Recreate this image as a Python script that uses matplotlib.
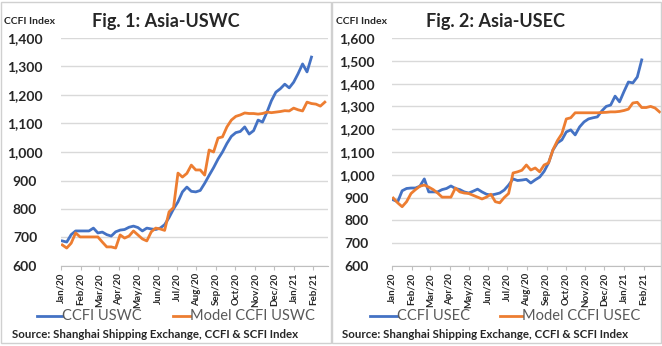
import numpy as np
import pandas as pd
import matplotlib
matplotlib.use("Agg")
import matplotlib.pyplot as plt
from matplotlib.patches import Rectangle
from matplotlib.lines import Line2D

plt.rcParams['font.family'] = ['Lato', 'DejaVu Sans']

# weekly CCFI readings (Fridays from 3 Jan 2020)
uswc_actual = [688, 684, 710, 723, 723, 723, 723, 733, 716, 719,
               710, 705, 720, 726, 728, 736, 740, 735, 723, 733,
               730, 728, 733, 745, 770, 800, 825, 860, 877, 862,
               860, 865, 890, 918, 945, 975, 1000, 1030, 1055, 1068,
               1072, 1088, 1063, 1075, 1112, 1105, 1140, 1180, 1210, 1222,
               1238, 1225, 1245, 1275, 1309, 1281, 1333]
uswc_model = [674, 663, 680, 716, 702, 702, 702, 702, 702, 684,
              667, 667, 663, 709, 698, 705, 723, 709, 695, 688,
              720, 733, 730, 725, 790, 805, 926, 912, 925, 954,
              937, 937, 919, 1007, 1000, 1049, 1053, 1088, 1112, 1125,
              1130, 1137, 1135, 1135, 1133, 1135, 1140, 1138, 1140, 1142,
              1145, 1144, 1154, 1148, 1144, 1175, 1170, 1168, 1161, 1175]
usec_actual = [890, 882, 930, 940, 942, 942, 950, 982, 925, 925,
               925, 935, 940, 951, 940, 935, 925, 920, 928, 937,
               925, 915, 911, 915, 920, 933, 955, 982, 975, 977,
               980, 964, 978, 990, 1015, 1052, 1109, 1140, 1153, 1188,
               1197, 1175, 1210, 1232, 1245, 1250, 1254, 1280, 1300, 1306,
               1345, 1320, 1365, 1407, 1403, 1429, 1504]
usec_model = [898, 877, 860, 882, 918, 935, 950, 955, 946, 935,
              920, 902, 902, 902, 942, 925, 920, 918, 910, 902,
              894, 902, 915, 882, 877, 900, 918, 1008, 1013, 1020,
              1043, 1021, 1030, 1013, 1043, 1052, 1110, 1150, 1180, 1245,
              1250, 1272, 1272, 1272, 1272, 1272, 1272, 1273, 1274, 1276,
              1276, 1278, 1282, 1288, 1315, 1318, 1295, 1295, 1300, 1293, 1276]

month_labels = ['Jan/20', 'Feb/20', 'Mar/20', 'Apr/20', 'May/20', 'Jun/20', 'Jul/20',
                'Aug/20', 'Sep/20', 'Oct/20', 'Nov/20', 'Dec/20', 'Jan/21', 'Feb/21']
month_ticks = pd.date_range('2020-01-01', periods=len(month_labels), freq='MS')

blue = '#4472C4'
orange = '#ED7D31'
grid_c = '#d9d9d9'

W, H = 662, 346
fig = plt.figure(figsize=(W / 100, H / 100), dpi=100)
fig.patch.set_facecolor('white')

# panel frames
for x0, x1 in [(1, 331), (332, 661)]:
    fig.patches.append(Rectangle((x0 / W, 3 / H), (x1 - x0) / W, (H - 5) / H,
                                 transform=fig.transFigure, fill=False,
                                 edgecolor='#d0d0d0', linewidth=1))

panels = [
    dict(ax=[61, 328], xmax='2021-02-24', ymax=1400, actual=uswc_actual, model=uswc_model,
         title='Fig. 1: Asia-USWC', title_x=166, idx_x=4, lab_c=25,
         leg=[(37, 62, 'CCFI USWC', blue), (173, 190, 'Model CCFI USWC', orange)],
         src_x=12),
    dict(ax=[392, 662], xmax='2021-03-02', ymax=1600, actual=usec_actual, model=usec_model,
         title='Fig. 2: Asia-USEC', title_x=496, idx_x=336, lab_c=357,
         leg=[(370, 397, 'CCFI USEC', blue), (500, 522, 'Model CCFI USEC', orange)],
         src_x=342),
]

y_bot, y_top = 266, 38
for p in panels:
    ax = fig.add_axes([p['ax'][0] / W, (H - y_bot) / H,
                       (p['ax'][1] - p['ax'][0]) / W, (y_bot - y_top) / H])
    ax.set_facecolor('none')
    d1 = pd.date_range('2020-01-03', periods=len(p['actual']), freq='7D')
    d2 = pd.date_range('2020-01-03', periods=len(p['model']), freq='7D')
    ax.plot(d1, p['actual'], color=blue, lw=2, zorder=3)
    ax.plot(d2, p['model'], color=orange, lw=2, zorder=3)
    ax.set_xlim(pd.Timestamp('2020-01-01'), pd.Timestamp(p['xmax']))
    ax.set_ylim(600, p['ymax'])
    yt = np.arange(600, p['ymax'] + 1, 100)
    ax.set_yticks(yt)
    ax.set_yticklabels([f'{v:,}' for v in yt], fontsize=10, fontweight='bold', color='#262626')
    pad = (p['ax'][0] - p['lab_c']) * 0.72
    ax.tick_params(axis='y', length=0, pad=pad)
    for t in ax.get_yticklabels():
        t.set_horizontalalignment('center')
    ax.set_xticks(month_ticks)
    ax.set_xticklabels(month_labels, rotation=90, fontsize=7, fontweight='bold', color='#262626')
    ax.tick_params(axis='x', length=3, color='#bfbfbf', pad=2)
    ax.grid(axis='y', color=grid_c, lw=1)
    ax.set_axisbelow(True)
    for s in ['top', 'left', 'right']:
        ax.spines[s].set_visible(False)
    ax.spines['bottom'].set_color('#bfbfbf')

    fig.text(p['idx_x'] / W, 1 - 22 / H, 'CCFI Index', fontsize=7.5, fontweight='bold',
             color='#262626', va='center', ha='left')
    fig.text(p['title_x'] / W, 1 - 22 / H, p['title'], fontsize=13, fontweight='bold',
             color='#262626', va='center', ha='center')
    for lx0, lx1, txt, c in p['leg']:
        fig.add_artist(Line2D([lx0 / W, lx1 / W], [1 - 316 / H, 1 - 316 / H],
                              transform=fig.transFigure, color=c, lw=2))
        fig.text(lx1 / W, 1 - 316 / H, txt, fontsize=10.5, color='#595959',
                 va='center', ha='left')
    fig.text(p['src_x'] / W, 1 - 334 / H, 'Source: Shanghai Shipping Exchange, CCFI & SCFI Index',
             fontsize=8.3, fontweight='bold', color='#262626', va='center', ha='left')

fig.savefig('out.png', dpi=100)
